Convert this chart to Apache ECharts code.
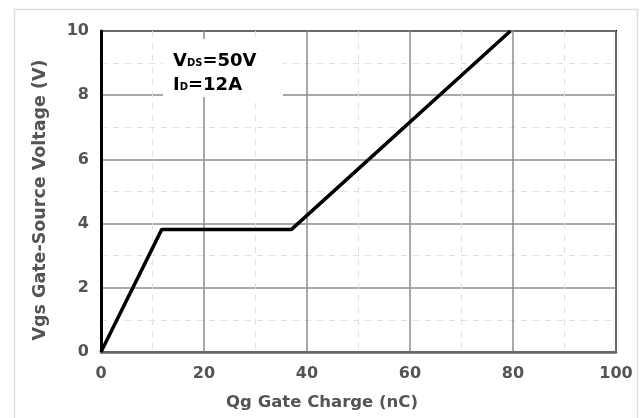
<!DOCTYPE html>
<html>
<head>
<meta charset="utf-8">
<script src="https://cdn.jsdelivr.net/npm/echarts@6/dist/echarts.min.js"></script>
<style>
	html, body { margin: 0; padding: 0; background: #fff; }
	#main { width: 644px; height: 418px; }
</style>
</head>
<body>
<div id="main"></div>
<script>
// gate charge curve
var qg = [0, 11.8, 37, 79.5]
var vgs = [0, 3.82, 3.82, 10]
var xTicks = [0, 20, 40, 60, 80, 100]
var yTicks = [0, 2, 4, 6, 8, 10]

var myChart = echarts.init(document.getElementById('main'))
var labelColor = '#545454'
var font = 'DejaVu Sans, sans-serif'

var option = {
	animation: false,
	grid: {
		left: 101,
		right: 28,
		top: 31,
		bottom: 66,
		show: true,
		borderColor: '#000',
		borderWidth: 2
	},
	xAxis: {
		type: 'value',
		min: xTicks[0],
		max: xTicks[xTicks.length - 1],
		interval: 20,
		axisLine: { show: true, onZero: false, lineStyle: { color: '#666', width: 2.5 } },
		axisTick: { show: false },
		axisLabel: { color: labelColor, fontWeight: 'bold', fontSize: 16, fontFamily: font, margin: 14 },
		splitLine: { lineStyle: { color: '#8c8c8c', width: 1.5 } },
		minorTick: { show: false, splitNumber: 2 },
		minorSplitLine: { show: true, lineStyle: { color: '#e0e0e0', width: 1, type: [6, 6] } }
	},
	yAxis: [{
		type: 'value',
		min: yTicks[0],
		max: yTicks[yTicks.length - 1],
		interval: 2,
		axisLine: { show: true, onZero: false, lineStyle: { color: '#000', width: 2 } },
		axisTick: { show: false },
		axisLabel: { color: labelColor, fontWeight: 'bold', fontSize: 16, fontFamily: font, margin: 12 },
		splitLine: { lineStyle: { color: '#8c8c8c', width: 1.5 } },
		minorTick: { show: false, splitNumber: 2 },
		minorSplitLine: { show: true, lineStyle: { color: '#e0e0e0', width: 1, type: [6, 6] } }
	}, {
		type: 'value',
		position: 'right',
		min: 0,
		max: 10,
		axisLine: { show: true, lineStyle: { color: '#000', width: 3 } },
		axisTick: { show: false },
		axisLabel: { show: false },
		splitLine: { show: false }
	}],
	graphic: [
		{
			type: 'rect',
			z: -10,
			shape: { x: 14.5, y: 9.5, width: 623, height: 430 },
			style: { fill: 'none', stroke: '#dcdcdc', lineWidth: 1.5 }
		},
		{
			type: 'rect',
			z: 100,
			shape: { x: 163, y: 39, width: 120, height: 58 },
			style: { fill: '#fff' }
		},
		{
			type: 'text',
			z: 101,
			x: 173,
			y: 46,
			style: {
				text: '{a|V}{s|DS}{a|=50V}\n{a|I}{s|D}{a|=12A}',
				fill: '#000',
				rich: {
					a: { fontSize: 18, fontWeight: 'bold', fontFamily: font, lineHeight: 24, verticalAlign: 'bottom' },
					s: { fontSize: 10, fontWeight: 'bold', fontFamily: font, lineHeight: 24, verticalAlign: 'bottom', padding: [0, 0, 2, 0] }
				}
			}
		},
		{
			type: 'text',
			z: 100,
			x: 322,
			y: 403,
			style: {
				text: 'Qg Gate Charge (nC)',
				fill: labelColor,
				fontSize: 16.5,
				fontWeight: 'bold',
				fontFamily: font,
				align: 'center',
				verticalAlign: 'middle'
			}
		},
		{
			type: 'text',
			z: 100,
			x: 40,
			y: 200,
			rotation: Math.PI / 2,
			style: {
				text: 'Vgs Gate-Source Voltage (V)',
				fill: labelColor,
				fontSize: 17.5,
				fontWeight: 'bold',
				fontFamily: font,
				align: 'center',
				verticalAlign: 'middle'
			}
		}
	],
	series: [{
		type: 'line',
		data: qg.map(function (q, i) { return [q, vgs[i]] }),
		showSymbol: false,
		z: 5,
		lineStyle: { color: '#000', width: 3.5 }
	}]
}
myChart.setOption(option)
</script>
</body>
</html>
